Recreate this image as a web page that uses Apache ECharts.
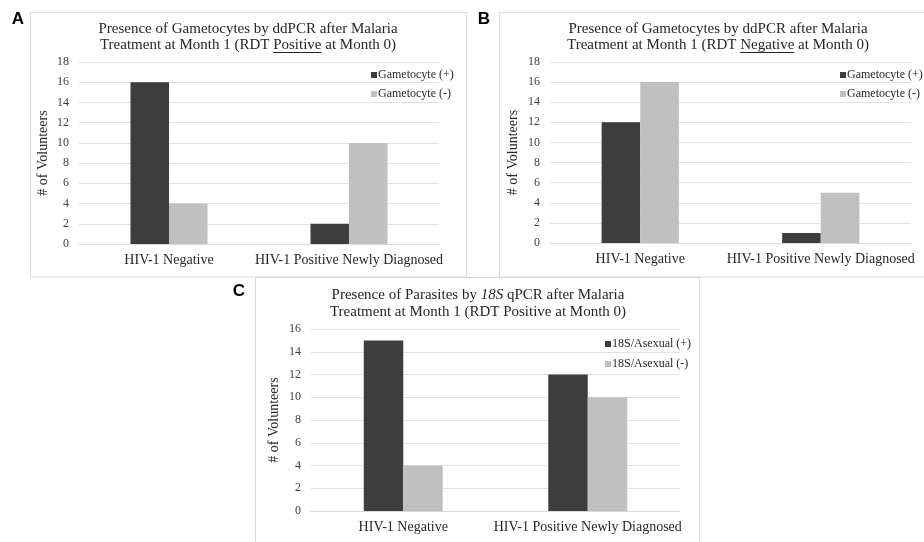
<!DOCTYPE html>
<html>
<head>
<meta charset="utf-8">
<script src="https://cdn.jsdelivr.net/npm/echarts@6/dist/echarts.min.js"></script>
<style>
html,body{margin:0;padding:0;background:#fff;}
#chart{width:924px;height:542px;}
</style>
</head>
<body>
<div id="chart"></div>
<script>
// ---------- data ----------
const categories = ['HIV-1 Negative', 'HIV-1 Positive Newly Diagnosed'];
const seriesNamesAB = ['Gametocyte (+)', 'Gametocyte (-)'];
const seriesNamesC = ['18S/Asexual (+)', '18S/Asexual (-)'];
const panelA_pos = [16, 2];
const panelA_neg = [4, 10];
const panelB_pos = [12, 1];
const panelB_neg = [16, 5];
const panelC_pos = [15, 12];
const panelC_neg = [4, 10];
const yMaxAB = 18;
const yMaxC = 16;
const yInterval = 2;
const titleA = ['Presence of Gametocytes by ddPCR after Malaria', 'Treatment at Month 1 (RDT ', 'Positive', ' at Month 0)'];
const titleB = ['Presence of Gametocytes by ddPCR after Malaria', 'Treatment at Month 1 (RDT ', 'Negative', ' at Month 0)'];
const titleC = ['Presence of Parasites by ', '18S', ' qPCR after Malaria', 'Treatment at Month 1 (RDT Positive at Month 0)'];
const yName = '# of Volunteers';

// ---------- style ----------
const SERIF = '"Liberation Serif", "Times New Roman", serif';
const DARK = '#3d3d3d';
const LIGHT = '#c0c0c0';
const TXT = '#262626';
const TICK = '#404040';
const GRIDC = '#e2e2e2';
const TITLE_FS = 15;

const chart = echarts.init(document.getElementById('chart'), null, {renderer: 'canvas'});

const mctx = document.createElement('canvas').getContext('2d');
function tw(s, fs, style) {
  mctx.font = (style || '') + ' ' + fs + 'px ' + SERIF;
  return mctx.measureText(s).width;
}

const grids = [
  {left: 79, top: 62, width: 360, height: 182},
  {left: 550, top: 62, width: 361, height: 181},
  {left: 311, top: 329, width: 369, height: 182}
];

function xAxis(i) {
  return {
    type: 'category', gridIndex: i, data: categories,
    axisLine: {show: true, lineStyle: {color: '#d9d9d9', width: 1}},
    axisTick: {show: false},
    axisLabel: {color: TXT, fontFamily: SERIF, fontSize: 14, margin: 9, interval: 0}
  };
}
function yAxis(i, max, gap) {
  return {
    type: 'value', gridIndex: i, min: 0, max: max, interval: yInterval,
    axisLine: {show: false}, axisTick: {show: false},
    axisLabel: {color: TICK, fontFamily: SERIF, fontSize: 12, margin: 10},
    splitLine: {lineStyle: {color: GRIDC, width: 1}},
    name: yName, nameLocation: 'middle', nameGap: gap, nameRotate: 90,
    nameTextStyle: {color: TXT, fontFamily: SERIF, fontSize: 14}
  };
}
function bar(name, data, i, color) {
  return {
    type: 'bar', name: name, data: data, xAxisIndex: i, yAxisIndex: i,
    barWidth: '21.4%', barGap: '0%',
    itemStyle: {color: color},
    emphasis: {disabled: true}, animation: false
  };
}
function legend(names, left, top, gap) {
  return {
    data: names, orient: 'vertical', left: left, top: top, padding: 0,
    icon: 'rect', itemWidth: 6, itemHeight: 6, itemGap: gap,
    textStyle: {color: TXT, fontFamily: SERIF, fontSize: 12, padding: [0, 0, 0, -4]},
    selectedMode: false
  };
}

const graphics = [];
// panel frames
graphics.push({type: 'rect', shape: {x: 30.5, y: 12.5, width: 436, height: 264.5}, style: {fill: 'none', stroke: '#d9d9d9', lineWidth: 1}, silent: true, z: -10});
graphics.push({type: 'rect', shape: {x: 499.5, y: 12.5, width: 440, height: 264.5}, style: {fill: 'none', stroke: '#d9d9d9', lineWidth: 1}, silent: true, z: -10});
graphics.push({type: 'rect', shape: {x: 255.5, y: 277.5, width: 444, height: 280}, style: {fill: 'none', stroke: '#d9d9d9', lineWidth: 1}, silent: true, z: -10});
// panel letters
[['A', 18, 19], ['B', 484, 19], ['C', 239, 291]].forEach(function (l) {
  graphics.push({type: 'text', x: l[1], y: l[2], silent: true,
    style: {text: l[0], fontFamily: '"Liberation Sans", Arial, sans-serif', fontWeight: 'bold', fontSize: 17, fill: '#000', align: 'center', verticalAlign: 'middle'}});
});

function titleAB(t, cx, y1, y2) {
  graphics.push({type: 'text', x: cx, y: y1, silent: true,
    style: {text: t[0], fontFamily: SERIF, fontSize: TITLE_FS, fill: TXT, align: 'center', verticalAlign: 'middle'}});
  const line2 = t[1] + t[2] + t[3];
  graphics.push({type: 'text', x: cx, y: y2, silent: true,
    style: {text: line2, fontFamily: SERIF, fontSize: TITLE_FS, fill: TXT, align: 'center', verticalAlign: 'middle'}});
  const W = tw(line2, TITLE_FS);
  const x0 = cx - W / 2 + tw(t[1], TITLE_FS);
  const x1 = x0 + tw(t[2], TITLE_FS);
  graphics.push({type: 'line', silent: true, shape: {x1: x0, y1: y2 + 7.5, x2: x1, y2: y2 + 7.5},
    style: {stroke: TXT, lineWidth: 1}});
}
titleAB(titleA, 248, 29, 45);
titleAB(titleB, 718, 29, 45);
graphics.push({type: 'text', x: 478, y: 295, silent: true,
  style: {text: '{n|' + titleC[0] + '}{i|' + titleC[1] + '}{n|' + titleC[2] + '}', align: 'center', verticalAlign: 'middle',
    rich: {n: {fontFamily: SERIF, fontSize: TITLE_FS, fill: TXT, color: TXT},
           i: {fontFamily: SERIF, fontSize: TITLE_FS, fontStyle: 'italic', fill: TXT, color: TXT}}}});
graphics.push({type: 'text', x: 478, y: 312, silent: true,
  style: {text: titleC[3], fontFamily: SERIF, fontSize: TITLE_FS, fill: TXT, align: 'center', verticalAlign: 'middle'}});

const option = {
  backgroundColor: '#fff',
  animation: false,
  grid: grids,
  xAxis: [xAxis(0), xAxis(1), xAxis(2)],
  yAxis: [yAxis(0, yMaxAB, 29), yAxis(1, yMaxAB, 30), yAxis(2, yMaxC, 30)],
  legend: [legend(seriesNamesAB, 371, 69, 7), legend(seriesNamesAB, 840, 69, 7), legend(seriesNamesC, 605, 338, 8)],
  series: [
    bar(seriesNamesAB[0], panelA_pos, 0, DARK),
    bar(seriesNamesAB[1], panelA_neg, 0, LIGHT),
    bar(seriesNamesAB[0], panelB_pos, 1, DARK),
    bar(seriesNamesAB[1], panelB_neg, 1, LIGHT),
    bar(seriesNamesC[0], panelC_pos, 2, DARK),
    bar(seriesNamesC[1], panelC_neg, 2, LIGHT)
  ],
  graphic: graphics
};
chart.setOption(option);
</script>
</body>
</html>
